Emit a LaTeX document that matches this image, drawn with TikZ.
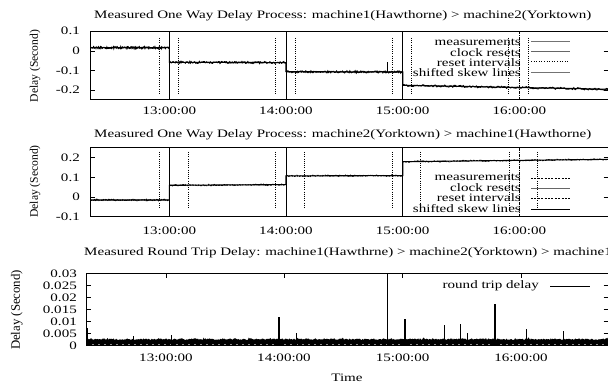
\documentclass[tikz,border=0pt]{standalone}
\usepackage{fontspec}
\setmainfont[FakeStretch=1.32]{Liberation Serif}
\newfontfamily\uprightserif{Liberation Serif}
\tikzset{
  lbl/.style={inner sep=0pt, font=\fontsize{11.4}{12}\selectfont},
  ylbl/.style={inner sep=0pt, rotate=90, font=\uprightserif\fontsize{11.6}{12}\selectfont},
  frame/.style={draw=black, line width=0.8pt},
  tickmark/.style={line width=0.6pt},
  clockline/.style={line width=0.7pt},
  clockdash/.style={line width=0.7pt, dash pattern=on 3pt off 1pt on 1pt off 1pt},
  resetline/.style={line width=0.9pt, dash pattern=on 1pt off 1.2pt},
  measnoise/.style={line width=1pt, black},
  measdash/.style={line width=0.9pt, black, dash pattern=on 2pt off 1pt},
  skewline/.style={line width=1.1pt, black},
  legmeas/.style={line width=0.9pt, black!55},
  legclock/.style={line width=0.6pt, black!60, dash pattern=on 0.5pt off 0.5pt},
  legreset/.style={line width=0.8pt, dash pattern=on 1pt off 1.6pt},
  legdash/.style={line width=0.7pt, dash pattern=on 2pt off 1.4pt},
  spike/.style={line width=1.3pt},
}
\begin{document}
\begin{tikzpicture}[x=1pt, y=-1pt]
\useasboundingbox (0,0) rectangle (608,385);
\fill[white] (0,0) rectangle (608,385);
\begin{scope}
\clip (0,0) rectangle (608,385);
\pgfmathsetseed{4242}

% ---------------- panel 1: machine1 -> machine2 ----------------
\node[lbl, anchor=west] (t1) at (94,16) {Measured One Way Delay Process: machine1(Hawthorne) > machine2(Yorktown)};
\node[ylbl] (yl1) at (35,66) {Delay (Second)};
\foreach \yy/\tx in {31/0.1, 51/0, 70.5/-0.1, 90/-0.2}
  \node[lbl, anchor=east] at (80,\yy) {\tx};
\foreach \yy in {51, 70.5, 90} {
  \draw[tickmark] (90.5,\yy) -- (95,\yy);
  \draw[tickmark] (603.5,\yy) -- (612,\yy);
}
\foreach \xx/\tx in {169.3/13:00:00, 286/14:00:00, 402.7/15:00:00, 519.3/16:00:00}
  \node[lbl] at (\xx,111) {\tx};
% reset intervals
\foreach \xx in {159, 178.7, 275.8, 295, 392.3, 411, 508.7, 528.3}
  \draw[resetline] (\xx,38) -- (\xx,95);
% clock resets
\foreach \xx in {169.3, 286, 402.7}
  \draw[clockline] (\xx,31.3) -- (\xx,99.7);
\draw[clockdash] (519.3,31.3) -- (519.3,99.7);
% measurements
\foreach \xa/\xb/\ya/\yb in {90.5/169.3/47.7/47.7, 169.3/286/62.3/62.6, 286/402.7/71.7/72, 402.7/612/85.3/89.3}
  \draw[measnoise] plot[domain=\xa:\xb, samples=160] (\x,{\ya+(\yb-\ya)*(\x-\xa)/(\xb-\xa)+1.0*rand});
\draw[line width=1pt] (387,72) -- (387,62);
% shifted skew lines
\draw[skewline] (90.5,47.7) -- (169.3,47.7) -- (169.3,62.3) -- (286,62.6) -- (286,71.7)
  -- (402.7,72) -- (402.7,85.3) -- (612,89.3);
% legend
\foreach \yy/\tx/\st in {42/measurements/legmeas, 52.3/clock resets/legclock, 62.5/reset intervals/legreset, 73/shifted skew lines/legmeas}{
  \node[lbl, anchor=east] at (521,\yy) {\tx};
  \draw[\st] (531,\yy-0.8) -- (570,\yy-0.8);
}
\draw[frame] (90.5,31.3) rectangle (612,99.7);

% ---------------- panel 2: machine2 -> machine1 ----------------
\node[lbl, anchor=west] (t2) at (94,134.3) {Measured One Way Delay Process: machine2(Yorktown) > machine1(Hawthorne)};
\node[ylbl] (yl2) at (35,181.5) {Delay (Second)};
\foreach \yy/\tx in {157.3/0.2, 177.3/0.1, 197/0, 216.7/-0.1}
  \node[lbl, anchor=east] at (80,\yy) {\tx};
\foreach \yy in {157.3, 177.3, 197.3} {
  \draw[tickmark] (90.5,\yy) -- (95,\yy);
  \draw[tickmark] (603.5,\yy) -- (612,\yy);
}
\foreach \xx/\tx in {169.3/13:00:00, 286/14:00:00, 402.7/15:00:00, 519.3/16:00:00}
  \node[lbl] at (\xx,231) {\tx};
\foreach \xx in {159, 188.3, 275.8, 304.5, 392.3, 420.7, 509, 537.5}
  \draw[resetline] (\xx,152) -- (\xx,208);
\foreach \xx in {169.3, 286, 402.7}
  \draw[clockline] (\xx,147.7) -- (\xx,216.7);
\draw[clockdash] (519.3,147.7) -- (519.3,216.7);
\foreach \xa/\xb/\ya/\yb in {90.5/169.3/200/200, 169.3/286/185.3/184.6, 286/402.7/175.9/175.6, 402.7/612/161.7/159.3}
  \draw[measdash] plot[domain=\xa:\xb, samples=140] (\x,{\ya+(\yb-\ya)*(\x-\xa)/(\xb-\xa)+0.7*rand});
\draw[skewline] (90.5,200) -- (169.3,200) -- (169.3,185.3) -- (286,184.6) -- (286,175.9)
  -- (402.7,175.6) -- (402.7,161.7) -- (612,159.3);
\foreach \yy/\tx/\st in {177.5/measurements/legdash, 187.7/clock resets/legclock, 198/reset intervals/legdash, 208.5/shifted skew lines/skewline}{
  \node[lbl, anchor=east] at (521,\yy) {\tx};
  \draw[\st] (531,\yy+0.6) -- (570,\yy+0.6);
}
\draw[frame] (90.5,147.7) rectangle (612,216.7);

% ---------------- panel 3: round trip delay ----------------
\node[lbl, anchor=west] (t3) at (84,253) {Measured Round Trip Delay: machine1(Hawthrne) > machine2(Yorktown) > machine1};
\node[ylbl, font=\uprightserif\fontsize{12.8}{13}\selectfont] (yl3) at (16.7,310) {Delay (Second)};
\foreach \yy/\tx in {273.3/0.03, 285.3/0.025, 297.3/0.02, 309.3/0.015, 321.3/0.01, 333.3/0.005, 345.3/0}
  \node[lbl, anchor=east] at (77,\yy) {\tx};
\foreach \yy in {285.3, 297.3, 309.3, 321.3, 333.3} {
  \draw[tickmark] (86,\yy) -- (90.5,\yy);
  \draw[tickmark] (603.5,\yy) -- (612,\yy);
}
\foreach \xx/\tx in {166/13:00:00, 284/14:00:00, 402.7/15:00:00, 521/16:00:00} {
  \node[lbl] at (\xx,357.7) {\tx};
  \draw[tickmark] (\xx,273.3) -- (\xx,277.8);
}
% noise band near zero
\fill[black] (86,345.3) -- plot[domain=86:612, samples=560] (\x,{340-1.4*rnd-2.4*rnd*rnd*rnd*rnd}) -- (612,345.3) -- cycle;
\draw[black!45, line width=0.5pt, dash pattern=on 2pt off 4pt] (86,344.3) -- (612,344.3);
% isolated peaks
\foreach \sx/\sy in {87.3/328, 133.3/335.7, 171.7/334.7, 279/317.3, 296.7/333, 387.3/273.3,
  405/319, 444.3/324.7, 460.3/323.7, 467.3/333, 495/304, 526.7/329, 563.3/331.3}
  \draw[spike] (\sx,345) -- (\sx,\sy);
\node[lbl, anchor=east] (lg3) at (539,286) {round trip delay};
\draw[line width=0.9pt] (550,286) -- (590,286);
\draw[frame] (86,273.3) rectangle (612,345.3);
\node[lbl] (xl) at (347,378) {Time};
\end{scope}
\end{tikzpicture}
\end{document}
